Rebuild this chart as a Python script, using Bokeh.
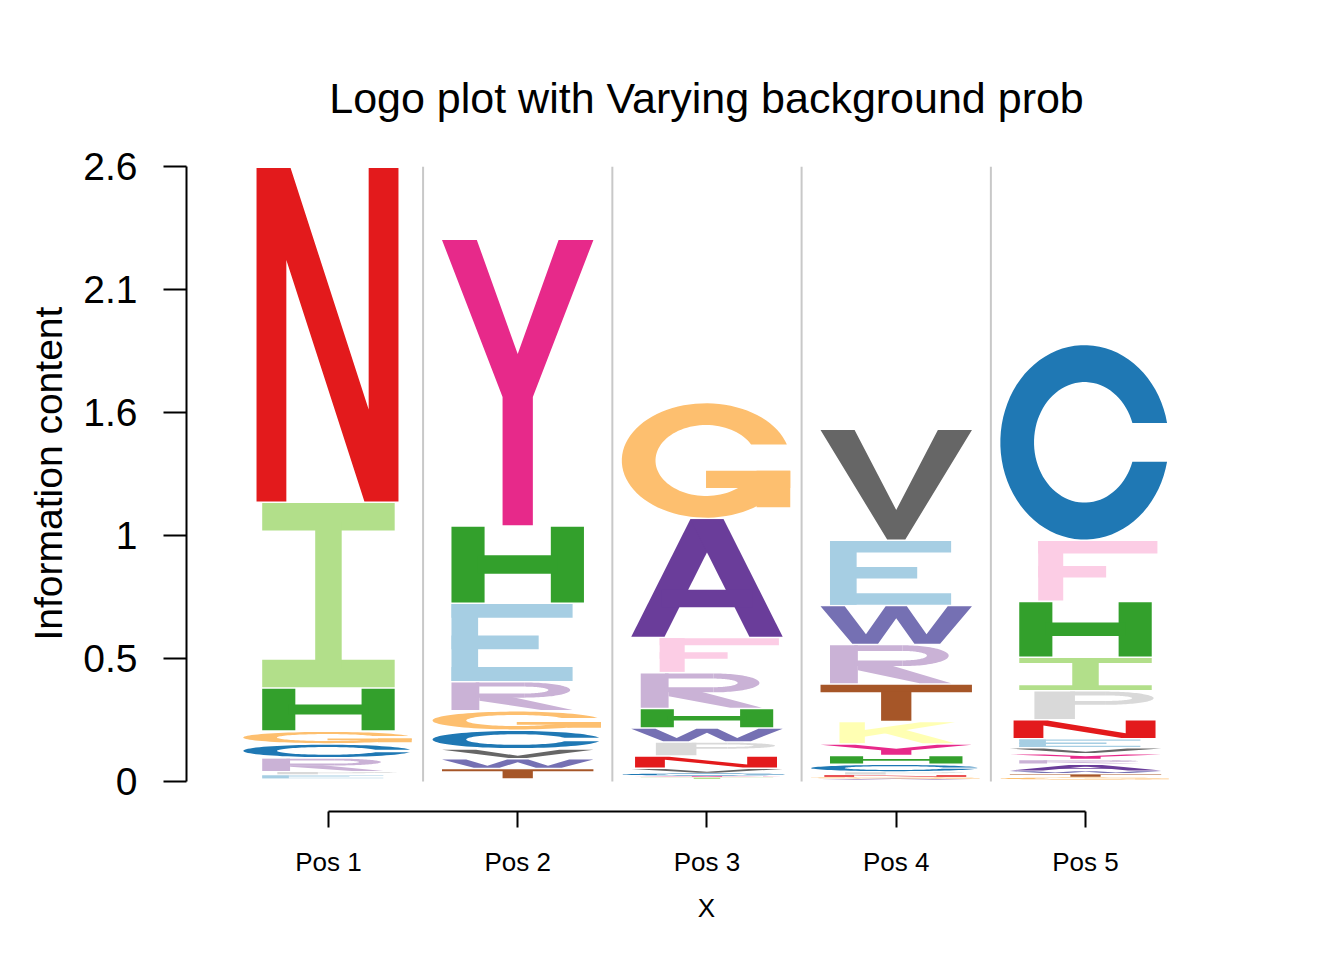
import numpy as np
from bokeh.plotting import figure
from bokeh.models import FixedTicker, ColumnDataSource, Range1d, Title
from bokeh.embed import file_html
from bokeh.resources import INLINE

# ---------------- data ----------------
title_text = "Logo plot with Varying background prob"
x_title = "X"
y_title = "Information content"
position_labels = ["Pos 1", "Pos 2", "Pos 3", "Pos 4", "Pos 5"]
y_max = 2.6
y_tick_labels = ["0", "0.5", "1", "1.6", "2.1", "2.6"]

# letters stacked bottom -> top, heights in bits
pos1_letters = ["A", "D", "F", "K", "L", "M", "Q", "S", "T", "V", "W", "Y",
                "E", "P", "R", "C", "G", "H", "I", "N"]
pos1_heights = [0.0012, 0.0011, 0.0012, 0.0012, 0.0011, 0.0012, 0.0012, 0.0011, 0.0012, 0.0012, 0.0011, 0.0012,
                0.016, 0.014, 0.059, 0.059, 0.054, 0.182, 0.786, 1.416]

pos2_letters = ["A", "D", "F", "I", "K", "L", "M", "N", "P", "Q", "S",
                "T", "W", "V", "C", "G", "R", "E", "H", "Y"]
pos2_heights = [0.0013, 0.0012, 0.0013, 0.0013, 0.0012, 0.0013, 0.0013, 0.0012, 0.0013, 0.0013, 0.0013,
                0.044, 0.041, 0.042, 0.079, 0.082, 0.123, 0.332, 0.326, 1.213]

pos3_letters = ["D", "E", "K", "L", "M", "Q", "S", "T",
                "I", "Y", "C", "V", "N", "P", "W", "H", "R", "F", "A", "G"]
pos3_heights = [0.0013, 0.0012, 0.0013, 0.0012, 0.0013, 0.0012, 0.0013, 0.0012,
                0.0085, 0.007, 0.0114, 0.0224, 0.052, 0.059, 0.059, 0.082, 0.152, 0.149, 0.503, 0.490]

pos4_letters = ["D", "F", "I", "L", "M", "Q", "S",
                "A", "G", "N", "P", "C", "H", "Y", "K", "T", "R", "W", "E", "V"]
pos4_heights = [0.0012, 0.0012, 0.0013, 0.0012, 0.0012, 0.0012, 0.0012,
                0.0042, 0.0072, 0.0097, 0.014, 0.0326, 0.0368, 0.049, 0.0947, 0.159, 0.1666, 0.165, 0.276, 0.469]

pos5_letters = ["D", "K", "L", "M", "Q", "S",
                "G", "T", "W", "A", "R", "Y", "V", "E", "N", "P", "I", "H", "F", "C"]
pos5_heights = [0.0014, 0.0014, 0.0014, 0.0014, 0.0014, 0.0014,
                0.0114, 0.016, 0.0106, 0.0296, 0.0199, 0.0245, 0.0254, 0.038, 0.080, 0.1226, 0.1416, 0.2367, 0.258, 0.8286]

stacks = [(pos1_letters, pos1_heights), (pos2_letters, pos2_heights), (pos3_letters, pos3_heights),
          (pos4_letters, pos4_heights), (pos5_letters, pos5_heights)]

# ---------------- styles ----------------
LETTER_COLORS = {
    "A": "#6A3D9A", "C": "#1F78B4", "D": "#FF7F00", "E": "#A6CEE3", "F": "#FCCDE5",
    "G": "#FDBF6F", "H": "#33A02C", "I": "#B2DF8A", "K": "#FFFFB3", "L": "#B15928",
    "M": "#1B9E77", "N": "#E31A1C", "P": "#D9D9D9", "Q": "#D95F02", "R": "#CAB2D6",
    "S": "#FB9A99", "T": "#A65628", "V": "#666666", "W": "#7570B3", "Y": "#E7298A",
}

# horizontal extent of each glyph inside its column (column units, relative to centre)
LETTER_BOX = {
    "N": (-0.38, 0.37), "I": (-0.35, 0.35), "H": (-0.35, 0.35), "G": (-0.45, 0.44),
    "C": (-0.45, 0.44), "R": (-0.35, 0.29), "P": (-0.27, 0.36), "E": (-0.35, 0.29),
    "F": (-0.25, 0.38), "Y": (-0.40, 0.40), "A": (-0.40, 0.40), "W": (-0.40, 0.40),
    "V": (-0.40, 0.40), "T": (-0.40, 0.40), "K": (-0.30, 0.31),
}


def rect(u0, u1, v0, v1):
    return [(u0, v0), (u1, v0), (u1, v1), (u0, v1)]


def band(cx, cy, rxo, ryo, rxi, ryi, a0, a1, n=60):
    ao = np.radians(np.linspace(a0, a1, n))
    outer = [(cx + rxo * np.cos(a), cy + ryo * np.sin(a)) for a in ao]
    inner = [(cx + rxi * np.cos(a), cy + ryi * np.sin(a)) for a in ao[::-1]]
    return outer + inner


def cut_ring(cx, cy, rxo, ryo, rxi, ryi, v_top, v_bot, n=80):
    """Ring open on the right, terminals cut horizontally at v_top / v_bot."""
    to = np.arcsin((v_top - cy) / ryo)
    bo = np.arcsin((v_bot - cy) / ryo)
    ti = np.arcsin(np.clip((v_top - cy) / ryi, -1, 1))
    bi = np.arcsin(np.clip((v_bot - cy) / ryi, -1, 1))
    ao = np.linspace(to, 2 * np.pi + bo, n)
    ai = np.linspace(2 * np.pi + bi, ti, n)
    outer = [(cx + rxo * np.cos(a), cy + ryo * np.sin(a)) for a in ao]
    inner = [(cx + rxi * np.cos(a), cy + ryi * np.sin(a)) for a in ai]
    return outer + inner


# glyph outlines in a unit box (unions of simple polygons)
GLYPHS = {
    "N": [[(0, 0), (0, 1), (0.24, 1), (0.79, 0.276), (0.79, 1), (1, 1), (1, 0), (0.76, 0), (0.21, 0.724), (0.21, 0)]],
    "I": [rect(0, 1, 0, 0.15), rect(0, 1, 0.85, 1), rect(0.4, 0.6, 0.1, 0.9)],
    "H": [rect(0, 0.25, 0, 1), rect(0.75, 1, 0, 1), rect(0.2, 0.8, 0.38, 0.625)],
    "E": [rect(0, 0.22, 0, 1), rect(0, 1, 0.82, 1), rect(0, 0.72, 0.41, 0.59), rect(0, 1, 0, 0.18)],
    "F": [rect(0, 0.21, 0, 1), rect(0, 1, 0.79, 1), rect(0, 0.57, 0.39, 0.58)],
    "T": [rect(0, 1, 0.79, 1), rect(0.4, 0.6, 0, 0.8)],
    "V": [[(0, 1), (0.225, 1), (0.5, 0.27), (0.775, 1), (1, 1), (0.56, 0), (0.44, 0)]],
    "Y": [[(0.4, 0), (0.4, 0.45), (0, 1), (0.23, 1), (0.5, 0.6), (0.77, 1), (1, 1), (0.6, 0.45), (0.6, 0)]],
    "W": [[(0, 1), (0.16, 1), (0.3, 0.25), (0.43, 1), (0.57, 1), (0.7, 0.25), (0.84, 1), (1, 1),
           (0.79, 0), (0.62, 0), (0.5, 0.68), (0.38, 0), (0.21, 0)]],
    "A": [[(0, 0), (0.22, 0), (0.61, 1), (0.39, 1)], [(0.78, 0), (1, 0), (0.61, 1), (0.39, 1)],
          rect(0.2, 0.8, 0.25, 0.4)],
    "K": [rect(0, 0.22, 0, 1), [(0.2, 0.3), (1, 1), (0.7, 1), (0.2, 0.62)],
          [(0.36, 0.52), (0.56, 0.66), (1, 0), (0.72, 0)]],
    "P": [rect(0, 0.34, 0, 1), rect(0.3, 0.6, 0.86, 1), rect(0.3, 0.6, 0.52, 0.66),
          band(0.6, 0.76, 0.4, 0.24, 0.22, 0.1, -90, 90)],
    "R": [rect(0, 0.23, 0, 1), rect(0.2, 0.6, 0.85, 1), rect(0.2, 0.6, 0.45, 0.6),
          band(0.6, 0.725, 0.38, 0.275, 0.2, 0.125, -90, 90),
          [(0.23, 0.47), (0.5, 0.47), (1, 0), (0.74, 0), (0.23, 0.34)]],
    "C": [cut_ring(0.5, 0.5, 0.5, 0.5, 0.3, 0.31, 0.6, 0.4)],
    "G": [cut_ring(0.5, 0.5, 0.5, 0.5, 0.3, 0.31, 0.64, 0.3),
          rect(0.5, 1, 0.26, 0.41), rect(0.8, 1, 0.09, 0.41)],
}

FONT = "Liberation Sans"

# ---------------- build glyph geometry from data ----------------
xs_all, ys_all, col_all = [], [], []
for i, (letters, heights) in enumerate(stacks):
    xc = i + 1
    y0 = 0.0
    for letter, h in zip(letters, heights):
        if h >= 0.003 and letter in GLYPHS:
            hd = h - min(0.0065, 0.3 * h)
            xl, xr = LETTER_BOX[letter]
            w = xr - xl
            for poly in GLYPHS[letter]:
                arr = np.asarray(poly, dtype=float)
                xs_all.append(list(xc + xl + arr[:, 0] * w))
                ys_all.append(list(y0 + arr[:, 1] * hd))
                col_all.append(LETTER_COLORS[letter])
        y0 += h

src = ColumnDataSource(dict(xs=xs_all, ys=ys_all, color=col_all))

n_pos = len(position_labels)
x_ticks = list(range(1, n_pos + 1))
y_ticks = [round(y_max * k / 5, 2) for k in range(6)]

p = figure(width=1344, height=960, output_backend="svg", toolbar_location=None,
           x_range=Range1d(0.25, 5.745), y_range=Range1d(-0.127, y_max),
           min_border_left=186, min_border_right=118, min_border_top=166, min_border_bottom=149)
p.outline_line_color = None
p.grid.visible = False
p.background_fill_color = "white"
p.border_fill_color = "white"

# column separators
sep_x = [k + 0.5 for k in range(1, n_pos)]
p.segment(x0=sep_x, y0=[0] * len(sep_x), x1=sep_x, y1=[y_max] * len(sep_x),
          line_color="#C8C8C8", line_width=2)

p.patches(xs="xs", ys="ys", fill_color="color", line_color=None, source=src)

# title
p.title.text = title_text
p.title.align = "center"
p.title.text_font = FONT
p.title.text_font_size = "43px"
p.title.text_font_style = "normal"
p.title.text_color = "black"
p.title.standoff = 90

# x axis
xa = p.xaxis[0]
xa.ticker = FixedTicker(ticks=x_ticks)
xa.major_label_overrides = {t: lab for t, lab in zip(x_ticks, position_labels)}
xa.bounds = (1, n_pos)
xa.axis_line_width = 2
xa.major_tick_line_width = 2
xa.major_tick_in = 0
xa.major_tick_out = 16
xa.minor_tick_out = 0
xa.minor_tick_in = 0
xa.major_label_text_font = FONT
xa.major_label_text_font_size = "26px"
xa.major_label_text_color = "black"
xa.major_label_standoff = 19
xa.axis_label = x_title
xa.axis_label_text_font = FONT
xa.axis_label_text_font_size = "26px"
xa.axis_label_text_font_style = "normal"
xa.axis_label_text_color = "black"
xa.axis_label_standoff = 13

# y axis
ya = p.yaxis[0]
ya.ticker = FixedTicker(ticks=y_ticks)
ya.major_label_overrides = {t: lab for t, lab in zip(y_ticks, y_tick_labels)}
ya.bounds = (0, y_max)
ya.axis_line_width = 2
ya.major_tick_line_width = 2
ya.major_tick_in = 0
ya.major_tick_out = 23
ya.minor_tick_out = 0
ya.minor_tick_in = 0
ya.major_label_text_font = FONT
ya.major_label_text_font_size = "39px"
ya.major_label_text_color = "black"
ya.major_label_standoff = 26

# y axis title as a side title, positioned along the 0..y_max span
p.add_layout(Title(text=y_title, align="left", offset=171, standoff=21,
                   text_font=FONT, text_font_size="39px", text_font_style="normal",
                   text_color="black"), "left")

open("out.html", "w").write(file_html(p, INLINE))
